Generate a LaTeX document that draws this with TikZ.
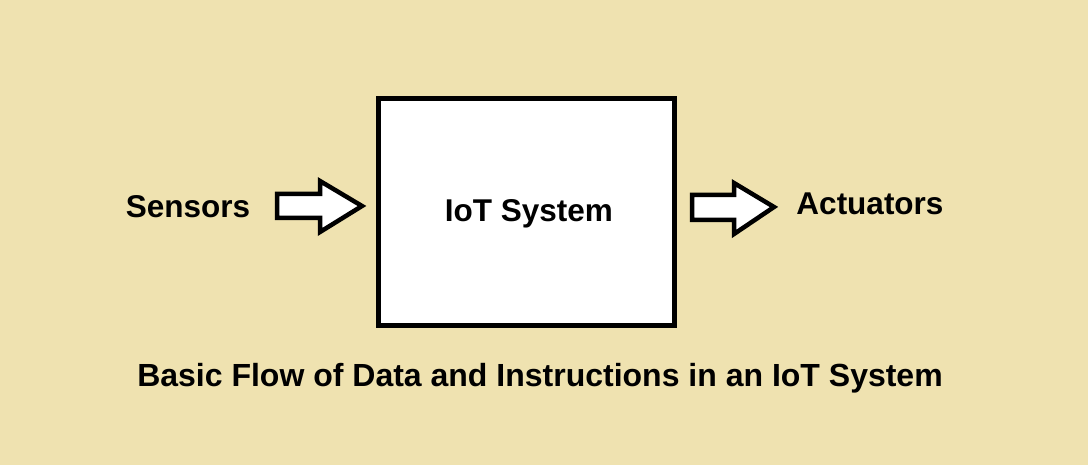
\documentclass[tikz,border=0pt]{standalone}
\usepackage{fontspec}
\setmainfont{Liberation Sans}
\definecolor{bgc}{RGB}{239,226,176}
\begin{document}
\begin{tikzpicture}[x=1pt,y=-1pt,
  lbl/.style={font=\fontsize{31.5}{34}\selectfont\bfseries, inner sep=0pt},
  blk/.style={draw=black, line width=5pt, fill=white, outer sep=0pt},
  fatarrow/.style={draw=black, line width=4.5pt, fill=white, line join=miter}]
\fill[bgc] (0,0) rectangle (1088,465);
\useasboundingbox (0,0) rectangle (1088,465);
\node[blk, minimum width=296pt, minimum height=227pt, anchor=north west] (sys) at (378.5,98.5) {};
\node[lbl] (iot) at (529,214) {IoT System};
\node[lbl] (sen) at (188,207) {Sensors};
\node[lbl] (act) at (870,204) {Actuators};
\draw[fatarrow] (277,194) -- (320,194) -- (320,181) -- (362,206) -- (320,232) -- (320,218) -- (277,218) -- cycle;
\draw[fatarrow] (692,195) -- (734,195) -- (734,183) -- (774,207) -- (734,234) -- (734,220) -- (692,220) -- cycle;
\node[font=\fontsize{32}{35}\selectfont\bfseries, inner sep=0pt] (title) at (540,378) {Basic Flow of Data and Instructions in an IoT System};
\end{tikzpicture}
\end{document}
